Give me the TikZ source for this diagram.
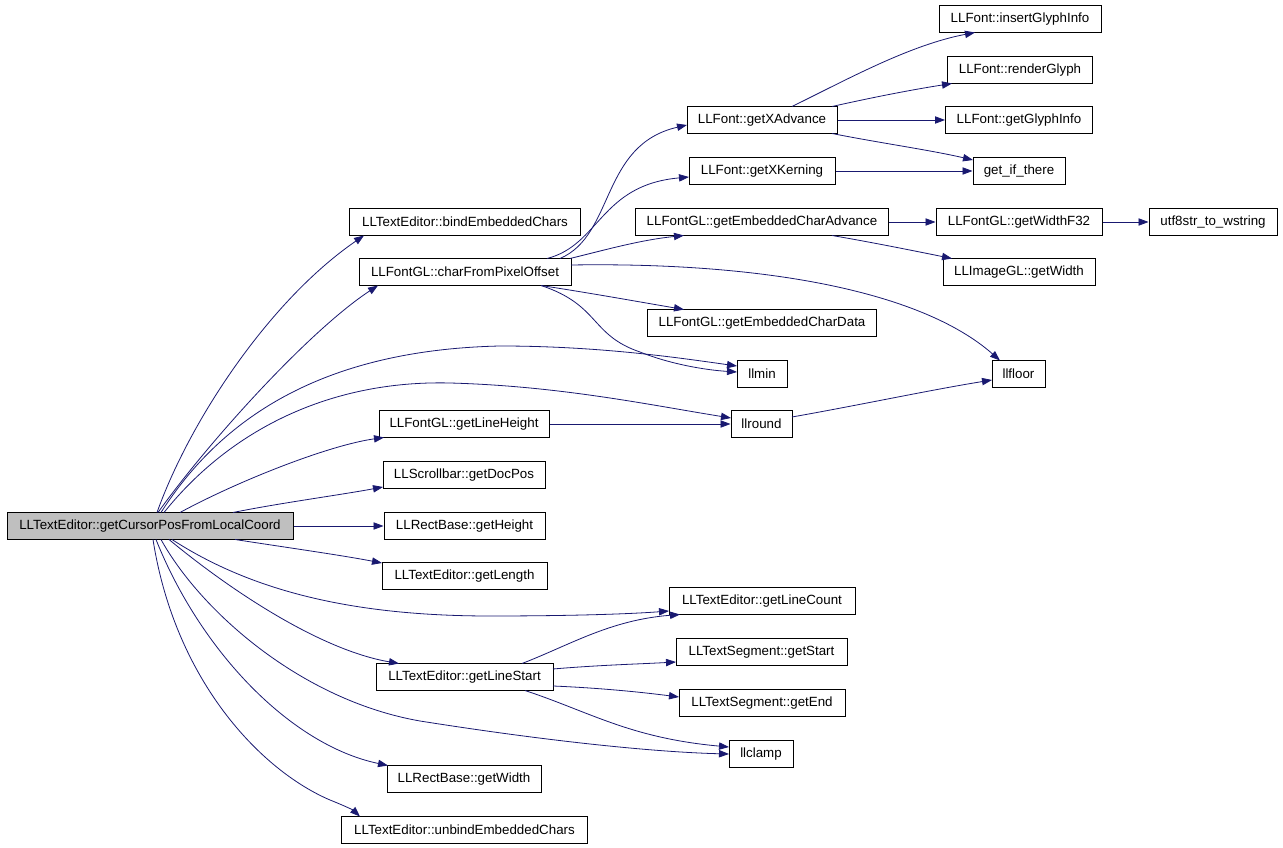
\documentclass[tikz,border=0pt]{standalone}
\usepackage{fontspec}
\setmainfont{Liberation Sans}
\usetikzlibrary{arrows.meta,calc}
\definecolor{edgeblue}{HTML}{191970}
\definecolor{rootgray}{HTML}{BFBFBF}
\tikzset{
  box/.style={draw=black, line width=0.75pt, inner sep=0pt, minimum height=20.25pt,
    minimum width={#1*0.75pt}, font=\fontsize{10}{12}\selectfont, anchor=center},
  e/.style={draw=edgeblue, line width=0.6pt, -{Triangle[length=7.5pt,width=5.5pt]}, fill=none}
}
\begin{document}
\begin{tikzpicture}[x=0.75pt,y=-0.75pt]
\useasboundingbox (0,0) rectangle (1283,848);
% nodes
\node[box=286, fill=rootgray] (root) at (150,526) {LLTextEditor::getCursorPosFromLocalCoord};
\node[box=231] (bind) at (465,222) {LLTextEditor::bindEmbeddedChars};
\node[box=212] (charfrom) at (465,272) {LLFontGL::charFromPixelOffset};
\node[box=170] (lineheight) at (464,424) {LLFontGL::getLineHeight};
\node[box=162] (docpos) at (464,475) {LLScrollbar::getDocPos};
\node[box=161] (rheight) at (464.5,526) {LLRectBase::getHeight};
\node[box=165] (length) at (464.5,576) {LLTextEditor::getLength};
\node[box=177] (linestart) at (464.5,677) {LLTextEditor::getLineStart};
\node[box=154] (rwidth) at (464,779) {LLRectBase::getWidth};
\node[box=246] (unbind) at (464.5,830) {LLTextEditor::unbindEmbeddedChars};
\node[box=150] (xadv) at (762,120) {LLFont::getXAdvance};
\node[box=146] (xkern) at (762,171) {LLFont::getXKerning};
\node[box=253] (ecadv) at (762,222) {LLFontGL::getEmbeddedCharAdvance};
\node[box=229] (ecdata) at (762,323) {LLFontGL::getEmbeddedCharData};
\node[box=50] (llmin) at (762,374) {llmin};
\node[box=61] (llround) at (761.5,424) {llround};
\node[box=186] (linecount) at (762,601) {LLTextEditor::getLineCount};
\node[box=171] (segstart) at (761.5,652) {LLTextSegment::getStart};
\node[box=166] (segend) at (762,703) {LLTextSegment::getEnd};
\node[box=64] (llclamp) at (761,754) {llclamp};
\node[box=162] (insglyph) at (1020,19) {LLFont::insertGlyphInfo};
\node[box=145] (render) at (1020,70) {LLFont::renderGlyph};
\node[box=147] (glyphinfo) at (1019,120) {LLFont::getGlyphInfo};
\node[box=92] (getif) at (1019,171) {get\_if\_there};
\node[box=166] (widthf) at (1019,222) {LLFontGL::getWidthF32};
\node[box=152] (imgwidth) at (1019,272) {LLImageGL::getWidth};
\node[box=53] (llfloor) at (1018.5,374) {llfloor};
\node[box=128] (utf) at (1213,222) {utf8str\_to\_wstring};
% edges from root
\draw[e] ($(root)+(7,-13.5)$) .. controls (190,420) and (270,300) .. ($(bind)+(-101,13.5)$);
\draw[e] ($(root)+(8,-13.5)$) .. controls (210,440) and (310,330) .. ($(charfrom)+(-87,13.5)$);
\draw[e] ($(root)+(11,-13.5)$) .. controls (220,420) and (320,350) .. (500,346) .. controls (600,346) and (680,358) .. ($(llmin)+(-25,-8)$);
\draw[e] ($(root)+(14,-13.5)$) .. controls (230,430) and (330,380) .. (450,383) .. controls (560,386) and (650,405) .. ($(llround)+(-30.5,-6)$);
\draw[e] ($(root)+(30,-13.5)$) .. controls (240,480) and (330,445) .. ($(lineheight)+(-80,13.5)$);
\draw[e] ($(root)+(83,-13.5)$) .. controls (280,503) and (340,495) .. ($(docpos)+(-81,12)$);
\draw[e] (root.east) -- (rheight.west);
\draw[e] ($(root)+(85,13.5)$) .. controls (290,548) and (340,555) .. ($(length)+(-82.5,-13)$);
\draw[e] ($(root)+(22,13.5)$) .. controls (250,590) and (350,616) .. (490,616) .. controls (570,616) and (630,614) .. ($(linecount)+(-93,10)$);
\draw[e] ($(root)+(19,13.5)$) .. controls (230,590) and (320,650) .. ($(linestart)+(-65.5,-13.5)$);
\draw[e] ($(root)+(11,13.5)$) .. controls (200,610) and (300,700) .. (420,721) .. controls (540,740) and (650,752) .. ($(llclamp)+(-32,0)$);
\draw[e] ($(root)+(6,13.5)$) .. controls (200,650) and (290,745) .. ($(rwidth)+(-76,-13.5)$);
\draw[e] ($(root)+(3,13.5)$) .. controls (175,680) and (260,770) .. (330,800) .. controls (345,806) and (353,810) .. ($(unbind)+(-104.5,-13.5)$);
% edges from charFromPixelOffset
\draw[e] ($(charfrom)+(95,-13.5)$) .. controls (615,235) and (600,145) .. ($(xadv)+(-75,5)$);
\draw[e] ($(charfrom)+(82,-13.5)$) .. controls (600,245) and (600,185) .. ($(xkern)+(-73,6)$);
\draw[e] ($(charfrom)+(105,-13.5)$) .. controls (605,250) and (640,240) .. ($(ecadv)+(-78,13.5)$);
\draw[e] ($(charfrom)+(76,13.5)$) .. controls (590,293) and (640,302) .. ($(ecdata)+(-78,-13.5)$);
\draw[e] ($(charfrom)+(76,13.5)$) .. controls (600,305) and (590,335) .. (640,352) .. controls (670,364) and (705,370) .. ($(llmin)+(-25,-2)$);
\draw[e] ($(charfrom)+(106,-7)$) .. controls (760,262) and (920,290) .. ($(llfloor)+(-18.5,-13.5)$);
% edges from getXAdvance
\draw[e] ($(xadv)+(30,-13.5)$) .. controls (850,78) and (910,45) .. ($(insglyph)+(-45,13.5)$);
\draw[e] ($(xadv)+(70,-13.5)$) .. controls (870,98) and (910,90) .. ($(render)+(-68,13.5)$);
\draw[e] (xadv.east) -- (glyphinfo.west);
\draw[e] ($(xadv)+(70,13.5)$) .. controls (880,143) and (930,150) .. ($(getif)+(-46,-11)$);
% others
\draw[e] (xkern.east) -- (getif.west);
\draw[e] (ecadv.east) -- (widthf.west);
\draw[e] ($(ecadv)+(70,13.5)$) .. controls (870,242) and (910,250) .. ($(imgwidth)+(-67,-13.5)$);
\draw[e] (widthf.east) -- (utf.west);
\draw[e] (lineheight.east) -- (llround.west);
\draw[e] ($(llround)+(30.5,-7)$) .. controls (860,405) and (930,390) .. ($(llfloor)+(-26.5,6)$);
% edges from getLineStart
\draw[e] ($(linestart)+(57.5,-13.5)$) .. controls (570,645) and (610,620) .. ($(linecount)+(-82,13.5)$);
\draw[e] ($(linestart)+(88.5,-8)$) .. controls (600,665) and (640,664) .. ($(segstart)+(-85.5,10)$);
\draw[e] ($(linestart)+(88.5,9)$) .. controls (600,688) and (640,692) .. ($(segend)+(-83,-6)$);
\draw[e] ($(linestart)+(60.5,13.5)$) .. controls (590,712) and (630,738) .. ($(llclamp)+(-32,-7)$);
\end{tikzpicture}
\end{document}
